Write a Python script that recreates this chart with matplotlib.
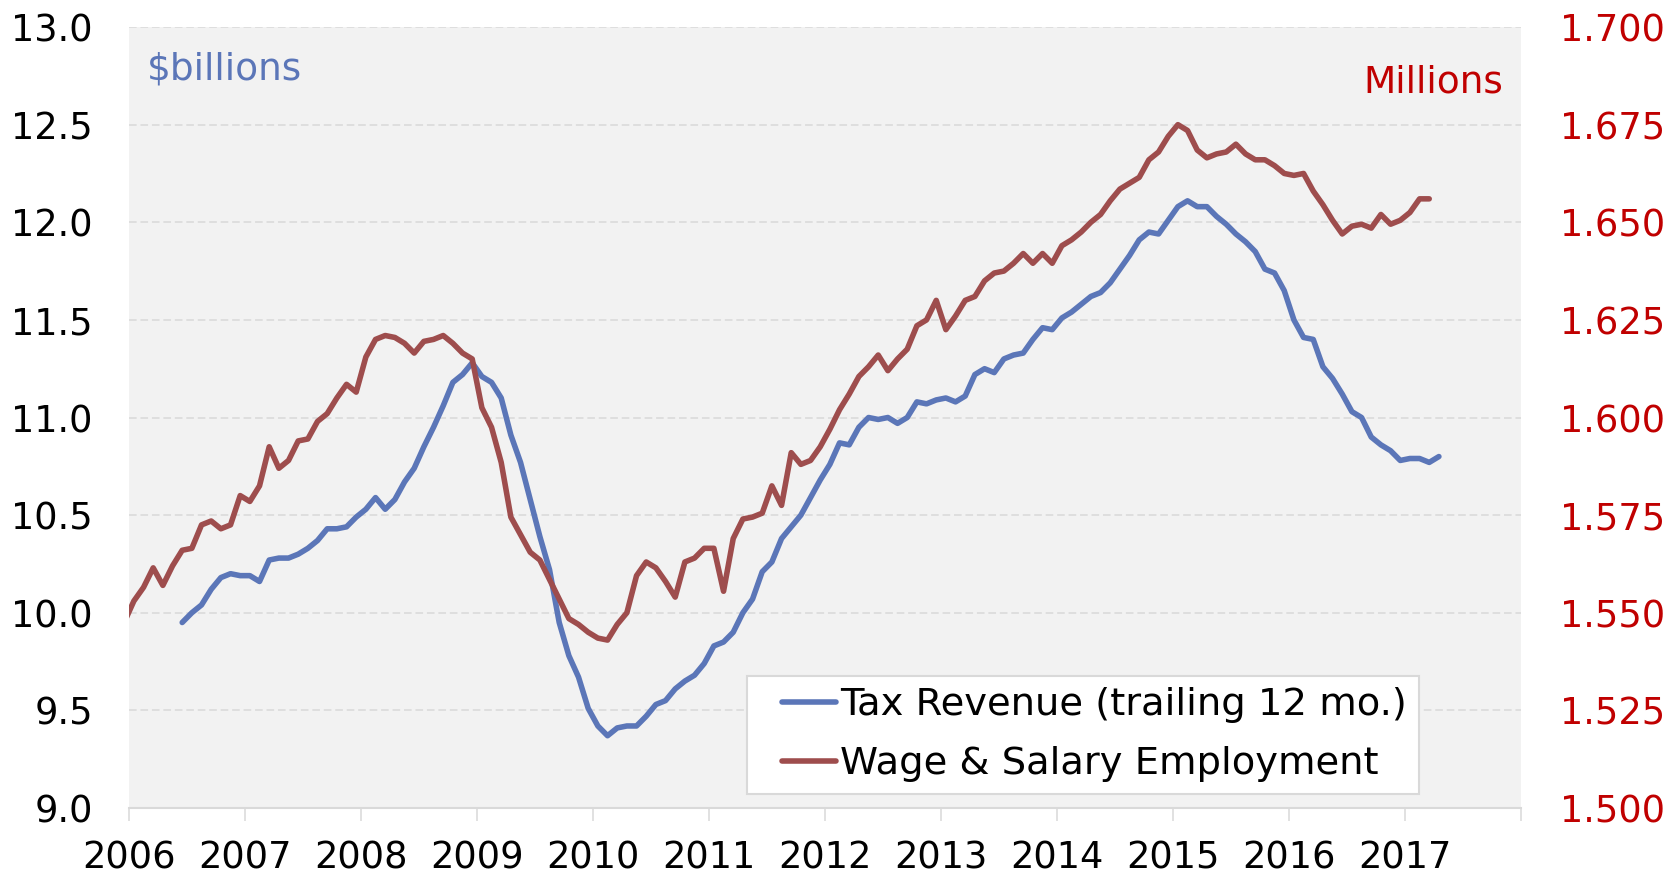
"""Tax revenue vs wage & salary employment, monthly, 2006-2017."""

import matplotlib

matplotlib.use("Agg")

import matplotlib.pyplot as plt
import numpy as np
import pandas as pd
from matplotlib.legend_handler import HandlerLine2D

BLUE = "#5b76b8"
RED = "#9e4d4d"
RED_TEXT = "#c00000"
GRID = "#d9d9d9"

# Tax revenue, trailing 12 months ($billions), Jun 2006 - Apr 2017
TAX_START = "2006-06"
tax_revenue = [
    9.95, 10.00, 10.04, 10.12, 10.18, 10.20, 10.19,
    10.19, 10.16, 10.27, 10.28, 10.28, 10.30, 10.33, 10.37, 10.43, 10.43, 10.44, 10.49,
    10.53, 10.59, 10.53, 10.58, 10.67, 10.74, 10.85, 10.95, 11.06, 11.18, 11.22, 11.28,
    11.21, 11.18, 11.10, 10.91, 10.77, 10.58, 10.39, 10.22, 9.95, 9.78, 9.67, 9.51,
    9.42, 9.37, 9.41, 9.42, 9.42, 9.47, 9.53, 9.55, 9.61, 9.65, 9.68, 9.74,
    9.83, 9.85, 9.90, 10.00, 10.07, 10.21, 10.26, 10.38, 10.44, 10.50, 10.59, 10.68,
    10.76, 10.87, 10.86, 10.95, 11.00, 10.99, 11.00, 10.97, 11.00, 11.08, 11.07, 11.09,
    11.10, 11.08, 11.11, 11.22, 11.25, 11.23, 11.30, 11.32, 11.33, 11.40, 11.46, 11.45,
    11.51, 11.54, 11.58, 11.62, 11.64, 11.69, 11.76, 11.83, 11.91, 11.95, 11.94, 12.01,
    12.08, 12.11, 12.08, 12.08, 12.03, 11.99, 11.94, 11.90, 11.85, 11.76, 11.74, 11.65,
    11.50, 11.41, 11.40, 11.26, 11.20, 11.12, 11.03, 11.00, 10.90, 10.86, 10.83, 10.78,
    10.79, 10.79, 10.77, 10.80,
]

# Wage & salary employment (millions), Dec 2005 - Mar 2017
EMP_START = "2005-12"
employment = [
    1.5475,
    1.5530, 1.5565, 1.5615, 1.5570, 1.5620, 1.5660, 1.5665, 1.5725, 1.5735, 1.5715, 1.5725, 1.5800,
    1.5785, 1.5825, 1.5925, 1.5870, 1.5890, 1.5940, 1.5945, 1.5990, 1.6010, 1.6050, 1.6085, 1.6065,
    1.6155, 1.6200, 1.6210, 1.6205, 1.6190, 1.6165, 1.6195, 1.6200, 1.6210, 1.6190, 1.6165, 1.6150,
    1.6025, 1.5975, 1.5885, 1.5745, 1.5700, 1.5655, 1.5635, 1.5585, 1.5535, 1.5485, 1.5470, 1.5450,
    1.5435, 1.5430, 1.5470, 1.5500, 1.5595, 1.5630, 1.5615, 1.5580, 1.5540, 1.5630, 1.5640, 1.5665,
    1.5665, 1.5555, 1.5690, 1.5740, 1.5745, 1.5755, 1.5825, 1.5775, 1.5910, 1.5880, 1.5890, 1.5925,
    1.5970, 1.6020, 1.6060, 1.6105, 1.6130, 1.6160, 1.6120, 1.6150, 1.6175, 1.6235, 1.6250, 1.6300,
    1.6225, 1.6260, 1.6300, 1.6310, 1.6350, 1.6370, 1.6375, 1.6395, 1.6420, 1.6395, 1.6420, 1.6395,
    1.6440, 1.6455, 1.6475, 1.6500, 1.6520, 1.6555, 1.6585, 1.6600, 1.6615, 1.6660, 1.6680, 1.6720,
    1.6750, 1.6735, 1.6685, 1.6665, 1.6675, 1.6680, 1.6700, 1.6675, 1.6660, 1.6660, 1.6645, 1.6625,
    1.6620, 1.6625, 1.6580, 1.6545, 1.6505, 1.6470, 1.6490, 1.6495, 1.6485, 1.6520, 1.6495, 1.6505,
    1.6525, 1.6560, 1.6560,
]

YEAR_TICKS = list(range(2006, 2019))
YEAR_LABELS = [str(y) for y in range(2006, 2018)] + [""]
LEFT_TICKS = np.arange(9.0, 13.01, 0.5)
RIGHT_TICKS = np.arange(1.500, 1.7001, 0.025)

LINE_WIDTH = 4.0


def month_positions(start: str, n: int) -> np.ndarray:
    dates = pd.date_range(start, periods=n, freq="MS")
    return dates.year + (dates.month - 0.5) / 12.0


def main() -> None:
    fig = plt.figure(figsize=(16.8, 8.75), dpi=100)
    ax = fig.add_axes([0.0768, 0.0766, 0.8286, 0.8925])
    ax2 = ax.twinx()

    ax.set_facecolor("#f2f2f2")
    ax.grid(True, axis="y", color=GRID, linewidth=1.1, linestyle=(0, (5, 2.5)))
    ax.set_axisbelow(True)

    tax_x = month_positions(TAX_START, len(tax_revenue))
    emp_x = month_positions(EMP_START, len(employment))
    (l1,) = ax.plot(tax_x, tax_revenue, color=BLUE, linewidth=LINE_WIDTH,
                    solid_joinstyle="round", solid_capstyle="round",
                    label="Tax Revenue (trailing 12 mo.)")
    (l2,) = ax2.plot(emp_x, employment, color=RED, linewidth=LINE_WIDTH,
                     solid_joinstyle="round", solid_capstyle="round",
                     label="Wage & Salary Employment")

    ax.set_xlim(2006, 2018)
    ax.set_ylim(9.0, 13.0)
    ax2.set_ylim(1.500, 1.700)

    ax.set_xticks(YEAR_TICKS)
    ax.set_xticklabels(YEAR_LABELS)
    ax.set_yticks(LEFT_TICKS)
    ax.set_yticklabels([f"{v:.1f}" for v in LEFT_TICKS])
    ax2.set_yticks(RIGHT_TICKS)
    ax2.set_yticklabels([f"{v:.3f}" for v in RIGHT_TICKS])

    ax.tick_params(axis="y", length=0, pad=26, labelsize=26.5, labelcolor="black")
    ax.tick_params(axis="x", length=9, width=1.1, color=GRID, pad=14,
                   labelsize=26.5, labelcolor="black")
    ax2.tick_params(axis="y", length=0, pad=28, labelsize=26.5, labelcolor=RED_TEXT)

    for name, spine in ax.spines.items():
        spine.set_visible(name == "bottom")
    ax.spines["bottom"].set_color(GRID)
    ax.spines["bottom"].set_linewidth(1.5)
    for spine in ax2.spines.values():
        spine.set_visible(False)

    ax.text(0.013, 0.933, "$billions", transform=ax.transAxes, color=BLUE,
            fontsize=27, ha="left", va="baseline")
    ax.text(0.987, 0.916, "Millions", transform=ax.transAxes, color=RED_TEXT,
            fontsize=27, ha="right", va="baseline")

    handler = HandlerLine2D(xpad=0.6)
    leg = ax2.legend(handles=[l1, l2], loc="lower left",
                     bbox_to_anchor=(0.444, 0.018), fontsize=27.7,
                     frameon=True, fancybox=False, framealpha=1,
                     edgecolor=GRID, handlelength=2.0, handletextpad=0.12,
                     borderpad=0.3, labelspacing=0.6, borderaxespad=0,
                     handler_map={l1: handler, l2: handler})
    leg.get_frame().set_linewidth(1.5)
    for line in leg.get_lines():
        line.set_linewidth(LINE_WIDTH)

    fig.savefig("out.png", dpi=100, facecolor="white")
    plt.close(fig)


if __name__ == "__main__":
    main()
